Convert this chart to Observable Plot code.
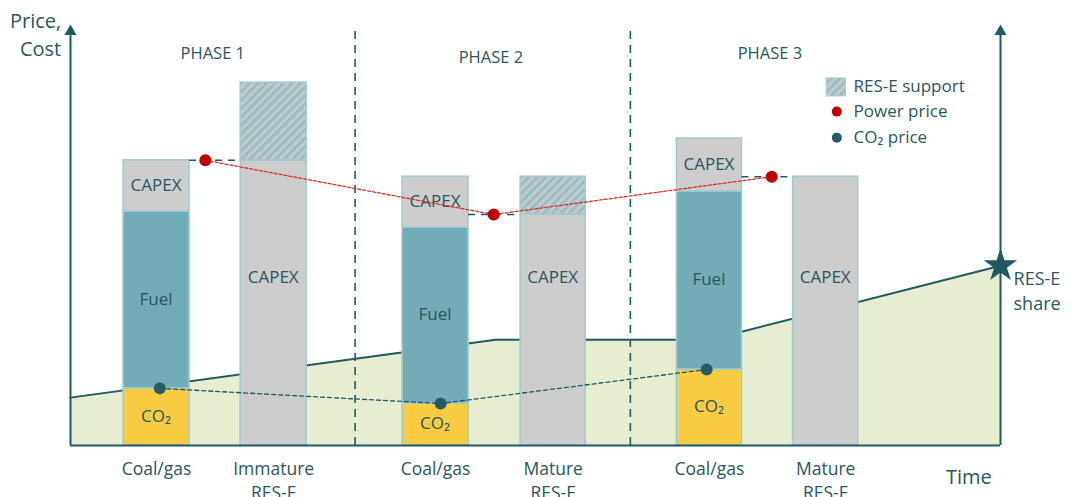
<!DOCTYPE html>
<html><head><meta charset="utf-8">
<script src="https://cdn.jsdelivr.net/npm/d3@7"></script>
<script src="https://cdn.jsdelivr.net/npm/@observablehq/plot@0.6"></script>
<style>body{margin:0;background:#fff;} svg{display:block}</style>
</head><body><div id="chart"></div>
<script>
// ---- data (time and price/cost in arbitrary 0–100 units) ----
const technologies = ["Coal/gas", "Immature\nRES-E", "Coal/gas", "Mature\nRES-E", "Coal/gas", "Mature\nRES-E"];
const barStart = [5.7, 18.3, 35.7, 48.4, 65.2, 77.7];
const barEnd   = [12.8, 25.4, 42.8, 55.4, 72.2, 84.7];
const co2Cost    = [13.6, 0, 10.0, 0, 18.1, 0];
const fuelCost   = [42.1, 0, 41.9, 0, 42.4, 0];
const capexCost  = [12.2, 67.9, 12.1, 55.0, 12.6, 64.0];
const resSupport = [0, 18.5, 0, 9.0, 0, 0];

const phases = ["PHASE 1", "PHASE 2", "PHASE 3"];
const phaseBoundaries = [30.6, 60.2];
const phaseLabelTime = [15.3, 45.2, 75.2];
const phaseLabelLevel = [93.3, 92.4, 93.3];

const powerPriceTime = [14.5, 45.5, 75.4];
const powerPrice = [67.9, 55.0, 64.0];
const co2PriceTime = [9.6, 39.8, 68.4];
const co2Price = [13.6, 10.0, 18.1];

const resShareTime = [0, 45.7, 68.8, 100];
const resShare = [11.4, 25.2, 25.2, 42.8];

// ---- derived tables ----
const segments = [];
technologies.forEach((t, i) => {
  let base = 0;
  for (const [part, v] of [["CO2", co2Cost[i]], ["Fuel", fuelCost[i]], ["CAPEX", capexCost[i]], ["Support", resSupport[i]]]) {
    if (v > 0) { segments.push({i, part, x1: barStart[i], x2: barEnd[i], y1: base, y2: base + v}); base += v; }
  }
});
const bars = technologies.map((t, i) => ({t, x: (barStart[i] + barEnd[i]) / 2, coal: fuelCost[i] > 0}));
const power = powerPrice.map((y, k) => ({x: powerPriceTime[k], y, x1: barEnd[2 * k], x2: barStart[2 * k + 1]}));
const co2 = co2Price.map((y, k) => ({x: co2PriceTime[k], y}));
const share = resShare.map((y, k) => ({x: resShareTime[k], y}));
const phaseLabels = phases.map((p, k) => ({p, x: phaseLabelTime[k], y: phaseLabelLevel[k]}));

const DARK = "#1F5A62", TXT = "#2A565E", EDGE = "#9FCBD0";
const FONT = "'Open Sans', sans-serif";
const seg = p => segments.filter(d => d.part === p);
const labelText = {CO2: "CO₂", Fuel: "Fuel", CAPEX: "CAPEX"};
const inBarLabels = segments.filter(d => d.part !== "Support").map(d => {
  const coal = fuelCost[d.i] > 0;
  return {s: labelText[d.part], x: (d.x1 + d.x2) / 2, y: coal ? (d.y1 + d.y2) / 2 : 39.8, dy: d.part === "Fuel" ? -10 : 0};
});

const chart = Plot.plot({
  width: 1078, height: 497,
  marginLeft: 70, marginRight: 78, marginTop: 25, marginBottom: 52,
  x: {domain: [0, 100], axis: null},
  y: {domain: [0, 100], axis: null},
  style: {fontFamily: FONT, color: TXT, background: "white"},
  marks: [
    Plot.areaY(share, {x: "x", y: "y", fill: "#E6EDD0"}),
    Plot.line(share, {x: "x", y: "y", stroke: DARK, strokeWidth: 2}),
    Plot.ruleX(phaseBoundaries, {y1: 0, y2: 100, stroke: DARK, strokeWidth: 1.6, strokeDasharray: "8,6"}),
    Plot.rect(seg("CO2"), {x1: "x1", x2: "x2", y1: "y1", y2: "y2", fill: "#F8CB42", stroke: EDGE, strokeWidth: 1.5}),
    Plot.rect(seg("Fuel"), {x1: "x1", x2: "x2", y1: "y1", y2: "y2", fill: "#72ADB7", stroke: EDGE, strokeWidth: 1.5}),
    Plot.rect(seg("CAPEX"), {x1: "x1", x2: "x2", y1: "y1", y2: "y2", fill: "#CDCDCD", stroke: EDGE, strokeWidth: 1.5}),
    Plot.rect(seg("Support"), {x1: "x1", x2: "x2", y1: "y1", y2: "y2", fill: "url(#hatch)", stroke: EDGE, strokeWidth: 1.5}),
    Plot.text(inBarLabels, {x: "x", y: "y", text: "s", dy: "dy", fontSize: 17, fill: TXT}),
    // axes
    Plot.ruleY([0], {x1: 0, x2: 100, stroke: DARK, strokeWidth: 2}),
    Plot.ruleX([0, 100], {y1: 0, y2: 98.5, stroke: DARK, strokeWidth: 2}),
    Plot.dot([0, 100], {x: d => d, y: 98.6, symbol: "triangle", r: 4.5, fill: DARK}),
    // power price
    Plot.ruleY(power, {y: "y", x1: "x1", x2: "x2", stroke: DARK, strokeWidth: 1.6, strokeDasharray: "7,6"}),
    Plot.line(power, {x: "x", y: "y", stroke: "#D9302C", strokeWidth: 1.3, strokeDasharray: "3,2"}),
    Plot.dot(power, {x: "x", y: "y", r: 6, fill: "#C00000"}),
    // CO2 price
    Plot.line(co2, {x: "x", y: "y", stroke: DARK, strokeWidth: 1.3, strokeDasharray: "4,3"}),
    Plot.dot(co2, {x: "x", y: "y", r: 6, fill: "#245B64"}),
    // RES-E share star
    Plot.dot([share[share.length - 1]], {x: "x", y: "y", symbol: "star", r: 10.5, fill: DARK}),
    // annotations
    Plot.text(phaseLabels, {x: "x", y: "y", text: "p", fontSize: 16.5, fill: TXT}),
    Plot.text(bars, {x: "x", y: 0, text: "t", lineAnchor: "top", dy: 12, fontSize: 17.5, lineHeight: 1.4, fill: TXT}),
    Plot.text(["Price,\nCost"], {x: -1, y: 98.3, textAnchor: "end", fontSize: 20, lineHeight: 1.4, fill: TXT}),
    Plot.text(["Time"], {x: 96.6, y: -7.6, fontSize: 20, fill: TXT}),
    Plot.text(["RES-E", "share"], {x: 101.4, y: (d, i) => [39.5, 33.6][i], textAnchor: "start", fontSize: 18, fill: TXT}),
    // legend
    Plot.rect([0], {x1: 81.3, x2: 83.4, y1: 83.1, y2: 87.4, fill: "url(#hatch)", stroke: "#A9CDD3"}),
    Plot.dot([0], {x: 82.4, y: 79.5, r: 5, fill: "#C00000"}),
    Plot.dot([0], {x: 82.4, y: 73.3, r: 5, fill: "#245B64"}),
    Plot.text(["RES-E support", "Power price", "CO₂ price"], {x: 84.2, y: (d, i) => [85.5, 79.5, 73.3][i], textAnchor: "start", fontSize: 17, fill: TXT})
  ]
});

const ns = "http://www.w3.org/2000/svg";
const defs = document.createElementNS(ns, "defs");
defs.innerHTML = `<pattern id="hatch" patternUnits="userSpaceOnUse" width="6" height="6" patternTransform="rotate(45)">
  <rect width="6" height="6" fill="#C8C8C8"/><rect width="2.6" height="6" fill="#8FC0C8"/></pattern>`;
chart.insertBefore(defs, chart.firstChild);
document.getElementById("chart").appendChild(chart);
</script>
</body></html>
